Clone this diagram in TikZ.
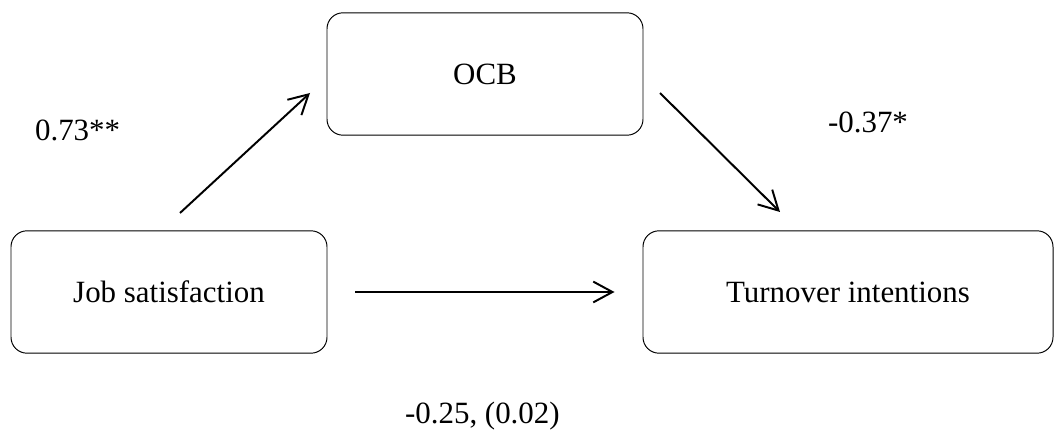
\documentclass[tikz,border=0pt]{standalone}
\usepackage{fontspec}
\setmainfont{Liberation Serif}
\usetikzlibrary{arrows.meta,positioning,calc}

\begin{document}
\begin{tikzpicture}[
  var/.style={draw, rectangle, rounded corners=0.4cm, line width=0.7pt, inner sep=0pt,
              minimum height=3.06cm, align=center, font=\fontsize{22}{26}\selectfont},
  eff/.style={-{Straight Barb[length=4.8mm,width=5.2mm]}, line width=1.4pt},
  coef/.style={inner sep=0pt, font=\fontsize{22}{26}\selectfont},
]
\useasboundingbox (0,0) rectangle (26.375,10.85);
\node[var, minimum width=7.9cm] (ocb) at (12.125,9.0) {OCB};
\node[var, minimum width=7.9cm] (js) at (4.225,3.55) {Job satisfaction};
\node[var, minimum width=10.25cm] (ti) at (21.2,3.55) {Turnover intentions};
% free-standing paths
\coordinate (a1s) at (4.5,5.525);
\coordinate (a1e) at (7.75,8.525);
\coordinate (a2s) at (16.5,8.525);
\coordinate (a2e) at (19.5,5.55);
\draw[eff] (a1s) -- (a1e);
\draw[eff] (a2s) -- (a2e);
\draw[eff, shorten <=0.7cm, shorten >=0.7cm] (js.east) -- (ti.west);
\node[coef] (ca) at (1.94,7.6) {0.73**};
\node[coef] (cb) at (21.7,7.8) {-0.37*};
\node[coef] (cc) at (12.06,0.45) {-0.25, (0.02)};
\end{tikzpicture}
\end{document}
